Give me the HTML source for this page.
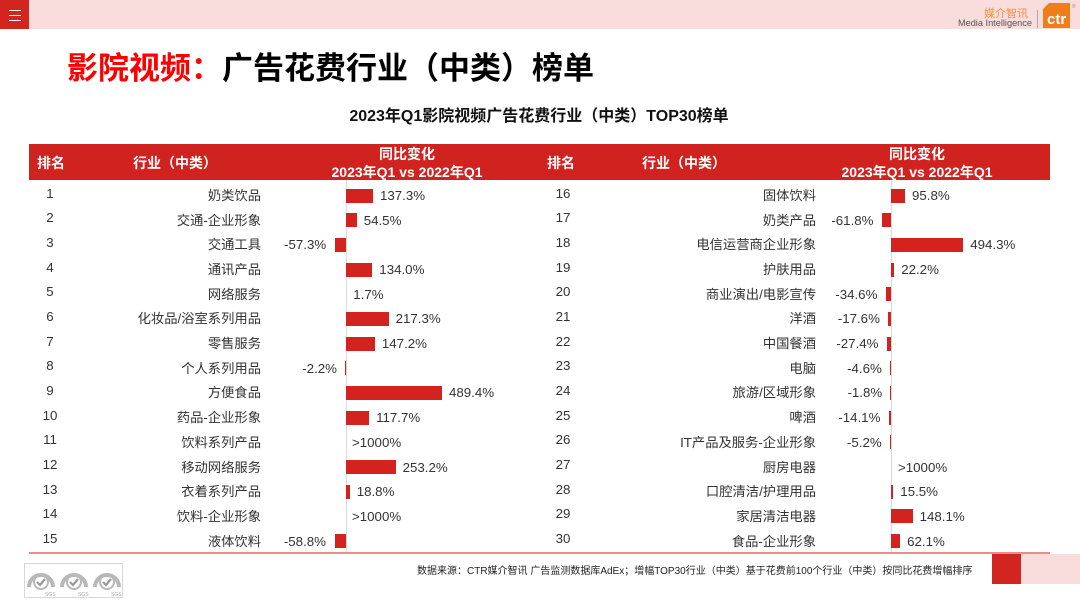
<!DOCTYPE html>
<html><head><meta charset="utf-8">
<style>
*{margin:0;padding:0;box-sizing:border-box}
html,body{width:1080px;height:608px;overflow:hidden;background:#fff}
body{position:relative;font-family:"Liberation Sans","Noto Sans CJK SC",sans-serif;color:#333}
.a{position:absolute;white-space:nowrap}
.t{font-size:13.3px;line-height:16px;height:16px}
.rk{width:40px;text-align:center}
.nm{text-align:right}
.bar{position:absolute;background:#d2231e;height:14px}
.h{color:#fff;font-weight:bold;font-size:14px;line-height:18px}
</style></head><body>
<!-- top bar -->
<div class="a" style="left:0;top:0;width:1080px;height:29px;background:#f9dcdc"></div>
<div class="a" style="left:0;top:0;width:29px;height:29px;background:#d3251f"></div>
<div class="a" style="left:9px;top:10px;width:12px;height:1px;background:#fff"></div>
<div class="a" style="left:9px;top:15px;width:12px;height:1px;background:#fff"></div>
<div class="a" style="left:9px;top:20px;width:12px;height:1px;background:#fff"></div>
<div class="a" style="right:52px;top:8px;font-size:11px;line-height:13px;color:#f0913f;font-family:'Liberation Sans','Noto Sans CJK SC',sans-serif">媒介智讯</div>
<div class="a" style="right:48px;top:18px;font-size:9.2px;line-height:11px;color:#555">Media Intelligence</div>
<div class="a" style="left:1037px;top:10px;width:1px;height:18px;background:#aaa"></div>
<svg class="a" style="left:0;top:0" width="1080" height="30">
<polygon points="1049,3 1070,3 1070,28 1043,28 1043,9" fill="#ef7d1a"/>
<text x="1047" y="24" font-family="Liberation Sans,sans-serif" font-weight="bold" font-size="15" fill="#fff">ctr</text>
<text x="1072" y="8" font-family="Liberation Sans,sans-serif" font-size="5" fill="#999">®</text>
</svg>

<!-- titles -->
<div class="a" style="left:67px;top:50px;font-size:31px;line-height:38px;font-weight:bold;font-family:'Liberation Sans','Noto Sans CJK SC',sans-serif;color:#000"><span style="color:#ff0000">影院视频：</span>广告花费行业（中类）榜单</div>
<div class="a" style="left:339px;width:400px;text-align:center;top:107px;font-size:16px;line-height:20px;font-weight:bold;color:#111">2023年Q1影院视频广告花费行业（中类）TOP30榜单</div>

<!-- header -->
<div class="a" style="left:29px;top:144px;width:1021px;height:36px;background:#d02320"></div>
<div class="a h" style="left:37px;top:154px">排名</div>
<div class="a h" style="left:133px;top:154px">行业（中类）</div>
<div class="a h" style="left:307px;width:200px;text-align:center;top:145px">同比变化</div>
<div class="a h" style="left:307px;width:200px;text-align:center;top:163px">2023年Q1 vs 2022年Q1</div>
<div class="a h" style="left:547px;top:154px">排名</div>
<div class="a h" style="left:642px;top:154px">行业（中类）</div>
<div class="a h" style="left:817px;width:200px;text-align:center;top:145px">同比变化</div>
<div class="a h" style="left:817px;width:200px;text-align:center;top:163px">2023年Q1 vs 2022年Q1</div>

<!-- axes -->
<div class="a" style="left:346px;top:180px;width:1px;height:373px;background:#d9d9d9"></div>
<div class="a" style="left:891px;top:180px;width:1px;height:373px;background:#d9d9d9"></div>

<!-- left rows -->
<div class="a t rk" style="left:30px;top:185.5px">1</div><div class="a t nm" style="right:819px;top:188px">奶类饮品</div>
<div class="bar" style="left:346px;top:188.5px;width:26.9px"></div><div class="a t" style="left:380px;top:188px">137.3%</div>

<div class="a t rk" style="left:30px;top:210.2px">2</div><div class="a t nm" style="right:819px;top:212.7px">交通-企业形象</div>
<div class="bar" style="left:346px;top:213.2px;width:10.7px"></div><div class="a t" style="left:363.7px;top:212.7px">54.5%</div>

<div class="a t rk" style="left:30px;top:234.9px">3</div><div class="a t nm" style="right:819px;top:237.4px">交通工具</div>
<div class="bar" style="left:334.8px;top:237.9px;width:11.2px"></div><div class="a t" style="right:753.8px;top:237.4px">-57.3%</div>

<div class="a t rk" style="left:30px;top:259.5px">4</div><div class="a t nm" style="right:819px;top:262px">通讯产品</div>
<div class="bar" style="left:346px;top:262.5px;width:26.3px"></div><div class="a t" style="left:379.3px;top:262px">134.0%</div>

<div class="a t rk" style="left:30px;top:284.2px">5</div><div class="a t nm" style="right:819px;top:286.7px">网络服务</div>
<div class="a t" style="left:353.3px;top:286.7px">1.7%</div>

<div class="a t rk" style="left:30px;top:308.9px">6</div><div class="a t nm" style="right:819px;top:311.4px">化妆品/浴室系列用品</div>
<div class="bar" style="left:346px;top:311.9px;width:42.6px"></div><div class="a t" style="left:395.6px;top:311.4px">217.3%</div>

<div class="a t rk" style="left:30px;top:333.6px">7</div><div class="a t nm" style="right:819px;top:336.1px">零售服务</div>
<div class="bar" style="left:346px;top:336.6px;width:28.9px"></div><div class="a t" style="left:381.9px;top:336.1px">147.2%</div>

<div class="a t rk" style="left:30px;top:358.3px">8</div><div class="a t nm" style="right:819px;top:360.8px">个人系列用品</div>
<div class="bar" style="left:345.4px;top:361.3px;width:0.8px"></div><div class="a t" style="right:743px;top:360.8px">-2.2%</div>

<div class="a t rk" style="left:30px;top:382.9px">9</div><div class="a t nm" style="right:819px;top:385.4px">方便食品</div>
<div class="bar" style="left:346px;top:385.9px;width:95.9px"></div><div class="a t" style="left:449px;top:385.4px">489.4%</div>

<div class="a t rk" style="left:30px;top:407.6px">10</div><div class="a t nm" style="right:819px;top:410.1px">药品-企业形象</div>
<div class="bar" style="left:346px;top:410.6px;width:23.1px"></div><div class="a t" style="left:376.1px;top:410.1px">117.7%</div>

<div class="a t rk" style="left:30px;top:432.3px">11</div><div class="a t nm" style="right:819px;top:434.8px">饮料系列产品</div>
<div class="a t" style="left:352px;top:434.8px">&gt;1000%</div>

<div class="a t rk" style="left:30px;top:457px">12</div><div class="a t nm" style="right:819px;top:459.5px">移动网络服务</div>
<div class="bar" style="left:346px;top:460px;width:49.6px"></div><div class="a t" style="left:402.6px;top:459.5px">253.2%</div>

<div class="a t rk" style="left:30px;top:481.7px">13</div><div class="a t nm" style="right:819px;top:484.2px">衣着系列产品</div>
<div class="bar" style="left:346px;top:484.7px;width:3.7px"></div><div class="a t" style="left:356.7px;top:484.2px">18.8%</div>

<div class="a t rk" style="left:30px;top:506.3px">14</div><div class="a t nm" style="right:819px;top:508.8px">饮料-企业形象</div>
<div class="a t" style="left:352px;top:508.8px">&gt;1000%</div>

<div class="a t rk" style="left:30px;top:531px">15</div><div class="a t nm" style="right:819px;top:533.5px">液体饮料</div>
<div class="bar" style="left:334.5px;top:534px;width:11.5px"></div><div class="a t" style="right:754px;top:533.5px">-58.8%</div>

<!-- right rows -->
<div class="a t rk" style="left:543px;top:185.5px">16</div><div class="a t nm" style="right:264px;top:188px">固体饮料</div>
<div class="bar" style="left:891px;top:188.5px;width:14px"></div><div class="a t" style="left:912px;top:188px">95.8%</div>

<div class="a t rk" style="left:543px;top:210.2px">17</div><div class="a t nm" style="right:264px;top:212.7px">奶类产品</div>
<div class="bar" style="left:882px;top:213.2px;width:9px"></div><div class="a t" style="right:206.5px;top:212.7px">-61.8%</div>

<div class="a t rk" style="left:543px;top:234.9px">18</div><div class="a t nm" style="right:264px;top:237.4px">电信运营商企业形象</div>
<div class="bar" style="left:891px;top:237.9px;width:72.2px"></div><div class="a t" style="left:970.2px;top:237.4px">494.3%</div>

<div class="a t rk" style="left:543px;top:259.5px">19</div><div class="a t nm" style="right:264px;top:262px">护肤用品</div>
<div class="bar" style="left:891px;top:262.5px;width:3.2px"></div><div class="a t" style="left:901.2px;top:262px">22.2%</div>

<div class="a t rk" style="left:543px;top:284.2px">20</div><div class="a t nm" style="right:264px;top:286.7px">商业演出/电影宣传</div>
<div class="bar" style="left:885.9px;top:287.2px;width:5.1px"></div><div class="a t" style="right:202.6px;top:286.7px">-34.6%</div>

<div class="a t rk" style="left:543px;top:308.9px">21</div><div class="a t nm" style="right:264px;top:311.4px">洋酒</div>
<div class="bar" style="left:888.4px;top:311.9px;width:2.6px"></div><div class="a t" style="right:200.1px;top:311.4px">-17.6%</div>

<div class="a t rk" style="left:543px;top:333.6px">22</div><div class="a t nm" style="right:264px;top:336.1px">中国餐酒</div>
<div class="bar" style="left:887px;top:336.6px;width:4px"></div><div class="a t" style="right:201.5px;top:336.1px">-27.4%</div>

<div class="a t rk" style="left:543px;top:358.3px">23</div><div class="a t nm" style="right:264px;top:360.8px">电脑</div>
<div class="bar" style="left:890.2px;top:361.3px;width:0.8px"></div><div class="a t" style="right:198.2px;top:360.8px">-4.6%</div>

<div class="a t rk" style="left:543px;top:382.9px">24</div><div class="a t nm" style="right:264px;top:385.4px">旅游/区域形象</div>
<div class="bar" style="left:890.3px;top:385.9px;width:0.7px"></div><div class="a t" style="right:197.8px;top:385.4px">-1.8%</div>

<div class="a t rk" style="left:543px;top:407.6px">25</div><div class="a t nm" style="right:264px;top:410.1px">啤酒</div>
<div class="bar" style="left:888.9px;top:410.6px;width:2.1px"></div><div class="a t" style="right:199.6px;top:410.1px">-14.1%</div>

<div class="a t rk" style="left:543px;top:432.3px">26</div><div class="a t nm" style="right:264px;top:434.8px">IT产品及服务-企业形象</div>
<div class="bar" style="left:890.2px;top:435.3px;width:0.8px"></div><div class="a t" style="right:198.3px;top:434.8px">-5.2%</div>

<div class="a t rk" style="left:543px;top:457px">27</div><div class="a t nm" style="right:264px;top:459.5px">厨房电器</div>
<div class="a t" style="left:898px;top:459.5px">&gt;1000%</div>

<div class="a t rk" style="left:543px;top:481.7px">28</div><div class="a t nm" style="right:264px;top:484.2px">口腔清洁/护理用品</div>
<div class="bar" style="left:891px;top:484.7px;width:2.3px"></div><div class="a t" style="left:900.3px;top:484.2px">15.5%</div>

<div class="a t rk" style="left:543px;top:506.3px">29</div><div class="a t nm" style="right:264px;top:508.8px">家居清洁电器</div>
<div class="bar" style="left:891px;top:509.3px;width:21.6px"></div><div class="a t" style="left:919.6px;top:508.8px">148.1%</div>

<div class="a t rk" style="left:543px;top:531px">30</div><div class="a t nm" style="right:264px;top:533.5px">食品-企业形象</div>
<div class="bar" style="left:891px;top:534px;width:9.1px"></div><div class="a t" style="left:907.1px;top:533.5px">62.1%</div>

<!-- bottom -->
<div class="a" style="left:29px;top:552px;width:1021px;height:2px;background:#eb8c8c"></div>
<div class="a" style="left:992px;top:554px;width:29px;height:30px;background:#d3251f"></div>
<div class="a" style="left:1021px;top:554px;width:59px;height:30px;background:#f9dcdc"></div>
<div class="a" style="left:417px;top:565px;font-size:10px;line-height:13px;color:#222">数据来源：CTR媒介智讯 广告监测数据库AdEx；增幅TOP30行业（中类）基于花费前100个行业（中类）按同比花费增幅排序</div>

<svg class="a" style="left:24px;top:563px" width="100" height="36">
<rect x="0.5" y="0.5" width="98" height="34" fill="#fff" stroke="#d8d8d8"/>
<g fill="none" stroke="#b8b8b8">
<path d="M5 24 A12 12 0 1 1 29 24" stroke-width="4"/>
<circle cx="17" cy="19" r="7" stroke-width="2"/>
<path d="M13 19 l3 3 l5 -6" stroke-width="2.2" stroke="#999"/>
<path d="M38 24 A12 12 0 1 1 62 24" stroke-width="4"/>
<circle cx="50" cy="19" r="7" stroke-width="2"/>
<path d="M46 19 l3 3 l5 -6" stroke-width="2.2" stroke="#999"/>
<path d="M71 24 A12 12 0 1 1 95 24" stroke-width="4"/>
<circle cx="83" cy="19" r="7" stroke-width="2"/>
<path d="M79 19 l3 3 l5 -6" stroke-width="2.2" stroke="#999"/>
</g>
<g font-family="Liberation Sans,sans-serif" font-size="5" fill="#aaa">
<text x="21" y="33">SGS</text><text x="54" y="33">SGS</text><text x="87" y="33">SGS</text>
</g>
</svg>
</body></html>
